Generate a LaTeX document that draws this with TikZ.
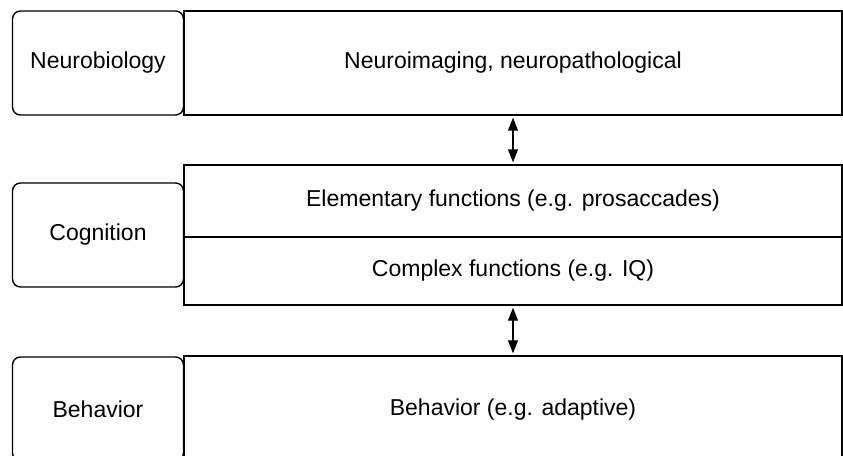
\documentclass[tikz,border=0pt]{standalone}
\usepackage{fontspec}
\setmainfont{Liberation Sans}
\usetikzlibrary{arrows.meta}

\tikzset{
  lbox/.style={draw, line width=1.4pt, rounded corners=8pt, minimum width=171pt, inner sep=0pt, font=\fontsize{23}{27}\selectfont},
  rbox/.style={draw, line width=1.4pt, minimum width=658pt, inner sep=0pt, font=\fontsize{23}{27}\selectfont},
  link/.style={line width=1.2pt, {Triangle[length=13pt,width=10pt]}-{Triangle[length=13pt,width=10pt]}, shorten <=2pt, shorten >=2pt}
}

\begin{document}
\begin{tikzpicture}[x=1pt,y=-1pt]
\useasboundingbox (0,0) rectangle (843,455);
\clip (0,0) rectangle (843,455);
\node[lbox, minimum height=104pt] (neuro) at (98,63) {Neurobiology};
\node[rbox, minimum height=104pt] (imaging) at (513,63) {Neuroimaging, neuropathological};
\node[lbox, minimum height=104pt] (cog) at (98,235) {Cognition};
\node[rbox, minimum height=72pt] (elem) at (513,201) {Elementary functions (e.g. prosaccades)};
\node[rbox, minimum height=68pt] (complex) at (513,271) {Complex functions (e.g. IQ)};
\node[lbox, minimum height=104pt] (beh) at (98,409) {Behavior};
\node[rbox, minimum height=108pt] (adapt) at (513,410) {Behavior (e.g. adaptive)};
\draw[link] (imaging.south) -- (elem.north);
\draw[link] (complex.south) -- (adapt.north);
\end{tikzpicture}
\end{document}
